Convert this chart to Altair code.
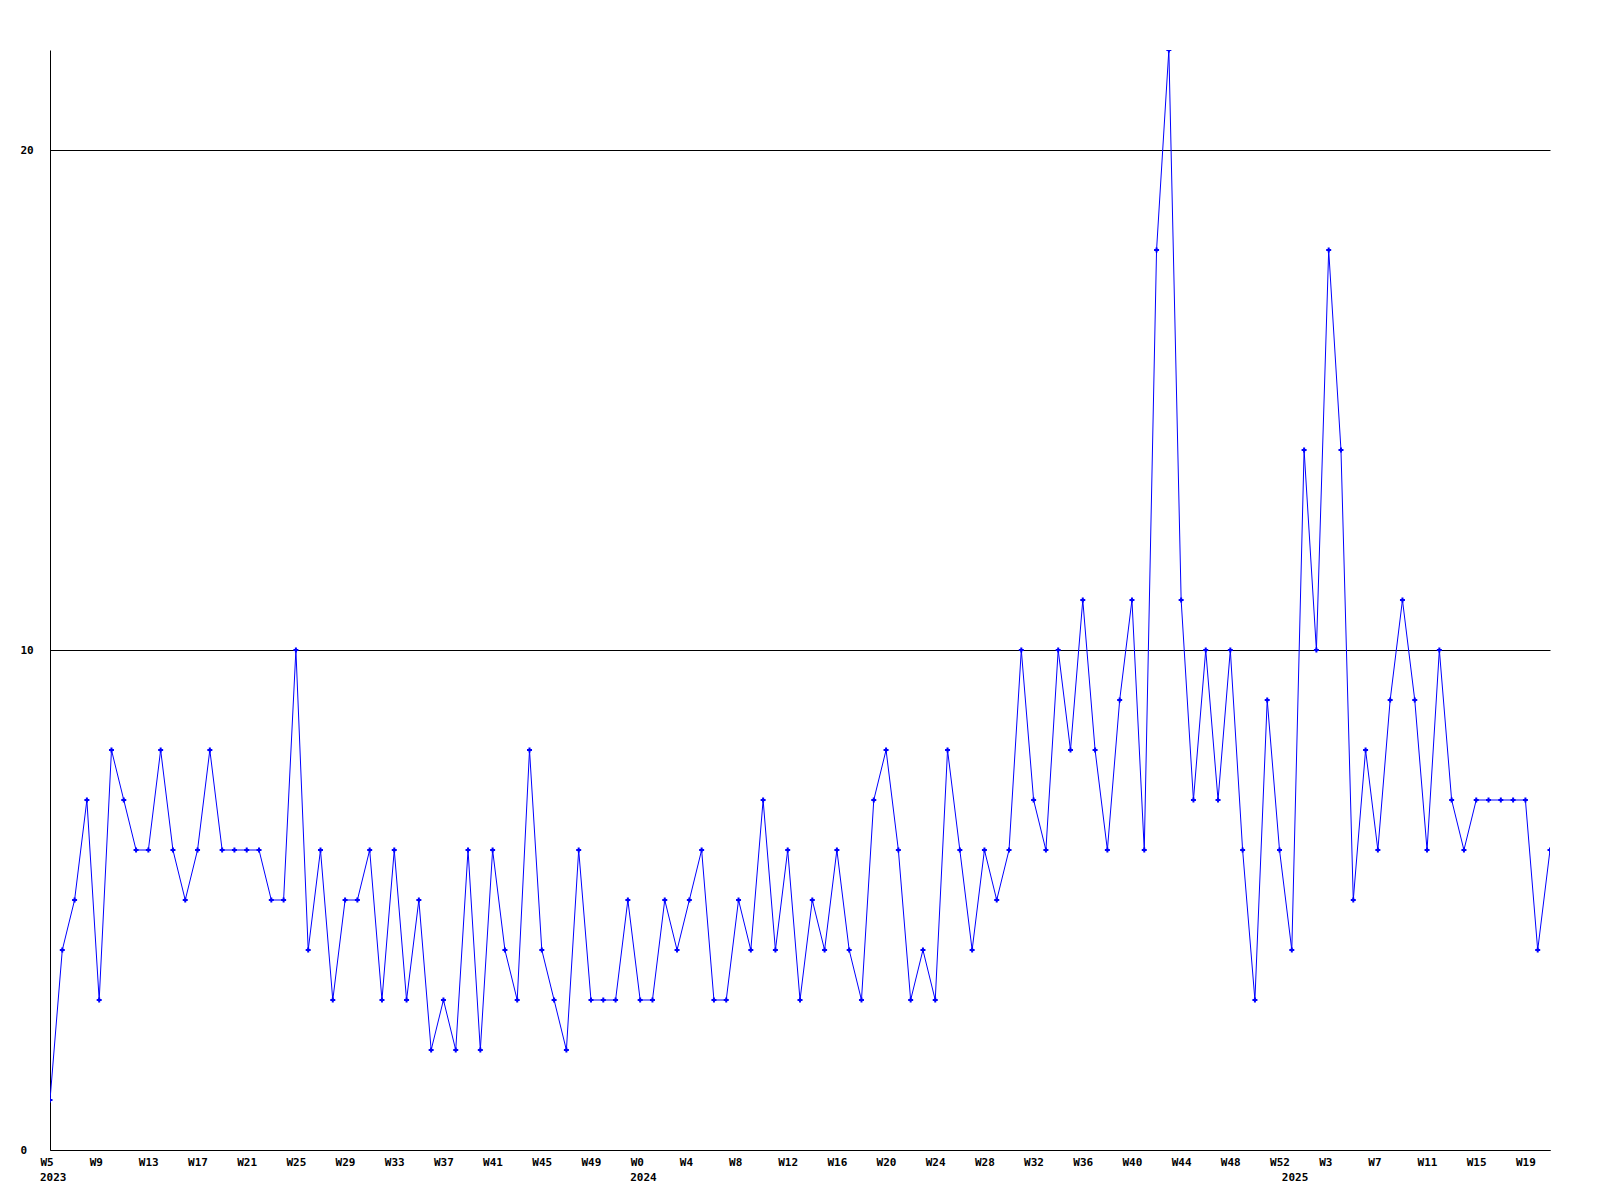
import altair as alt
import pandas as pd

# Weekly values, W5 2023 .. W21 2025 (123 weeks)
values = [
    1, 4, 5, 7, 3, 8, 7, 6, 6, 8, 6, 5, 6, 8, 6, 6, 6, 6, 5, 5,
    10, 4, 6, 3, 5, 5, 6, 3, 6, 3, 5, 2, 3, 2, 6, 2, 6, 4, 3, 8,
    4, 3, 2, 6, 3, 3, 3, 5, 3, 3, 5, 4, 5, 6, 3, 3, 5, 4, 7, 4,
    6, 3, 5, 4, 6, 4, 3, 7, 8, 6, 3, 4, 3, 8, 6, 4, 6, 5, 6, 10,
    7, 6, 10, 8, 11, 8, 6, 9, 11, 6, 18, 22, 11, 7, 10, 7, 10, 6, 3, 9,
    6, 4, 14, 10, 18, 14, 5, 8, 6, 9, 11, 9, 6, 10, 7, 6, 7, 7, 7, 7,
    7, 4, 6,
]
week_index = list(range(len(values)))

# Week tick labels every 4 weeks
tick_weeks = [
    "W5", "W9", "W13", "W17", "W21", "W25", "W29", "W33", "W37", "W41", "W45", "W49",
    "W0", "W4", "W8", "W12", "W16", "W20", "W24", "W28", "W32", "W36", "W40", "W44", "W48", "W52",
    "W3", "W7", "W11", "W15", "W19",
]
tick_values = [4 * i for i in range(len(tick_weeks))]

# Year labels, placed at first week of each year
year_labels = ["2023", "2024", "2025"]
year_index = [0, 48, 101]

label_expr = "[" + ",".join("'%s'" % w for w in tick_weeks) + "][round(datum.value/4)]"

df = pd.DataFrame({"idx": week_index, "value": values})
df_years = pd.DataFrame({"idx": year_index, "label": year_labels})

FONT = "DejaVu Sans Mono"
H = 1100

x_scale = alt.Scale(domain=[0, len(values) - 1], nice=False, zero=False)

x_enc = alt.X(
    "idx:Q",
    scale=x_scale,
    axis=alt.Axis(
        values=tick_values,
        labelExpr=label_expr,
        title=None,
        grid=False,
        ticks=False,
        tickSize=0,
        labelPadding=6,
        labelAlign="left",
        labelBaseline="top",
        labelOffset=-10,
        labelFont=FONT,
        labelFontSize=11,
        labelFontWeight="bold",
        labelColor="black",
        labelOverlap=False,
        labelFlush=False,
        domainColor="black",
        domainWidth=1,
    ),
)
y_enc = alt.Y(
    "value:Q",
    scale=alt.Scale(domain=[0, 22], nice=False),
    axis=alt.Axis(
        values=[0, 10, 20],
        title=None,
        grid=True,
        gridColor="black",
        gridWidth=1,
        gridOpacity=1,
        ticks=False,
        tickSize=0,
        labelPadding=30,
        labelAlign="left",
        labelBaseline="middle",
        labelFont=FONT,
        labelFontSize=11,
        labelFontWeight="bold",
        labelColor="black",
        domainColor="black",
        domainWidth=1,
    ),
)

line = alt.Chart(df).mark_line(color="#0000ff", strokeWidth=1, clip=True).encode(x=x_enc, y=y_enc)
pts = alt.Chart(df).mark_point(
    shape="M-1,0H1M0,-1V1",
    filled=False,
    color="#0000ff",
    strokeWidth=2,
    size=25,
    opacity=1,
    clip=True,
).encode(x="idx:Q", y="value:Q")

years = alt.Chart(df_years).mark_text(
    font=FONT,
    fontSize=11,
    fontWeight="bold",
    color="black",
    align="left",
    baseline="top",
    dx=-10,
).encode(x="idx:Q", y=alt.value(H + 22), text="label:N")

chart = (
    alt.layer(line, pts, years)
    .properties(
        width=1500,
        height=H,
        autosize=alt.AutoSizeParams(type="none"),
        padding={"left": 42, "top": 42, "right": 30, "bottom": 40},
        background="white",
    )
    .configure_view(stroke=None)
)

chart.save("out.html", embed_options={"renderer": "svg", "actions": False})
